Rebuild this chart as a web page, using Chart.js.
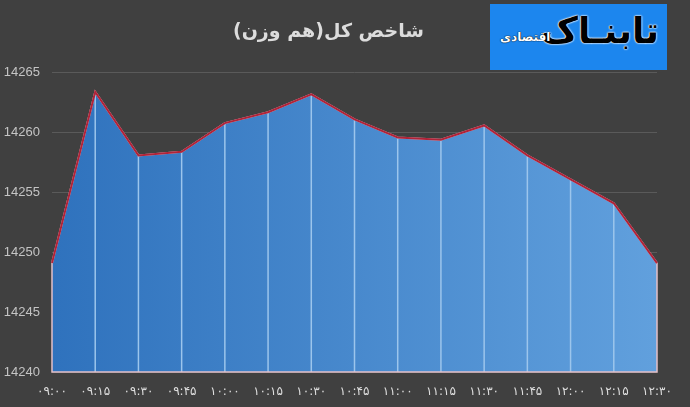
<!DOCTYPE html>
<html>
<head>
<meta charset="utf-8">
<script src="https://cdn.jsdelivr.net/npm/chart.js@4.4.0/dist/chart.umd.min.js"></script>
<style>
  html, body { margin: 0; padding: 0; background: #404040; }
  #wrap { position: relative; width: 690px; height: 407px; }
  #logo {
    position: absolute; left: 490px; top: 4px; width: 177px; height: 66px;
    background: #1c86ee; overflow: hidden;
  }
  #logo .big {
    position: absolute; right: 8px; top: 6px;
    font: bold 36px 'DejaVu Sans', sans-serif; color: #000;
    text-shadow: 0 0 2px #fff, 0 0 2px #fff, 0 0 1px #fff;
    direction: rtl; white-space: nowrap;
  }
  #logo .small {
    position: absolute; left: 10px; top: 26px;
    font: bold 12px 'DejaVu Sans', sans-serif; color: #fff;
    text-shadow: 0 0 1px #000, 0 0 1px #000;
    direction: rtl;
  }
</style>
</head>
<body>
<div id="wrap">
  <canvas id="chart" width="690" height="407"></canvas>
  <div id="logo"><span class="big">تابنـاک</span><span class="small">اقتصادی</span></div>
</div>
<script>
// ── Data ──
const TITLE = 'شاخص کل(هم وزن)';
const times = ['۰۹:۰۰','۰۹:۱۵','۰۹:۳۰','۰۹:۴۵','۱۰:۰۰','۱۰:۱۵','۱۰:۳۰','۱۰:۴۵',
               '۱۱:۰۰','۱۱:۱۵','۱۱:۳۰','۱۱:۴۵','۱۲:۰۰','۱۲:۱۵','۱۲:۳۰'];
const indexValues = [14249.1, 14263.4, 14258.1, 14258.4, 14260.8, 14261.7, 14263.2, 14261.1,
                     14259.6, 14259.4, 14260.6, 14258.1, 14256.1, 14254.1, 14249.1];
const yMin = 14240, yMax = 14265, yStep = 5;

// ── Drop lines from each point down to the axis ──
const dropLines = {
  id: 'dropLines',
  afterDatasetDraw(chart, args) {
    if (args.index !== 0) return;
    const { ctx } = chart;
    const pts = chart.getDatasetMeta(0).data;
    const bottom = chart.scales.y.getPixelForValue(yMin);
    ctx.save();
    ctx.lineWidth = 1.5;
    ctx.strokeStyle = '#9cc5ec';
    pts.forEach((p, i) => {
      if (i === 0 || i === pts.length - 1) return;
      ctx.beginPath(); ctx.moveTo(p.x, p.y); ctx.lineTo(p.x, bottom); ctx.stroke();
    });
    // outline of the area: sides and base
    ctx.strokeStyle = '#e4c0c8';
    ctx.beginPath();
    ctx.moveTo(pts[0].x, pts[0].y); ctx.lineTo(pts[0].x, bottom);
    ctx.lineTo(pts[pts.length-1].x, bottom); ctx.lineTo(pts[pts.length-1].x, pts[pts.length-1].y);
    ctx.stroke();
    ctx.restore();
  }
};

const ctx = document.getElementById('chart').getContext('2d');
let grad = null;
function areaGradient(c) {
  const a = c.chart.chartArea;
  if (!a) return '#3f84c8';
  if (!grad) {
    grad = c.chart.ctx.createLinearGradient(a.left, 0, a.right, 0);
    grad.addColorStop(0, '#2f72bd');
    grad.addColorStop(1, '#61a0dd');
  }
  return grad;
}

new Chart(ctx, {
  type: 'line',
  data: {
    labels: times,
    datasets: [
      {
        data: indexValues,
        order: 2,
        fill: 'start',
        backgroundColor: areaGradient,
        borderColor: '#eec3cc',
        borderWidth: 2,
        pointRadius: 0,
        tension: 0
      },
      {
        data: indexValues,
        order: 1,
        fill: false,
        borderColor: '#b02439',
        borderWidth: 2,
        pointRadius: 0,
        tension: 0
      }
    ]
  },
  plugins: [dropLines],
  options: {
    responsive: false,
    animation: false,
    layout: { padding: { left: 0, right: 33, top: 0, bottom: 0 } },
    plugins: {
      legend: { display: false },
      tooltip: { enabled: false },
      title: {
        display: true,
        text: TITLE,
        color: '#dcdcdc',
        font: { family: 'DejaVu Sans', size: 19, weight: 'bold', lineHeight: 1.2 },
        padding: { top: 21, bottom: 29 }
      }
    },
    scales: {
      x: {
        offset: false,
        grid: { display: false },
        border: { display: false },
        ticks: {
          color: '#dedede', font: { family: 'DejaVu Sans', size: 12 },
          maxRotation: 0, autoSkip: false, padding: 5
        },
        afterFit: s => { s.height = 35; }
      },
      y: {
        min: yMin, max: yMax,
        grid: { color: '#5a5a5a', lineWidth: 1, drawTicks: false },
        border: { display: false },
        ticks: {
          stepSize: yStep, color: '#c4c4c4',
          font: { family: 'Liberation Sans', size: 13 }, padding: 12,
          callback: v => String(v)
        },
        afterFit: s => { s.width = 52; }
      }
    }
  }
});
</script>
</body>
</html>
